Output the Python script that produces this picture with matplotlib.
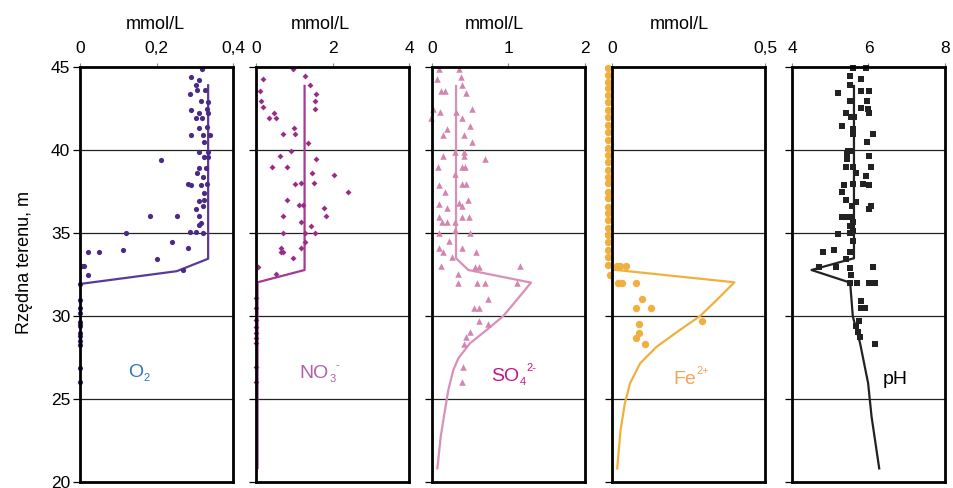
import numpy as np
import matplotlib
matplotlib.use('Agg')
import matplotlib.pyplot as plt

plt.rcParams['font.family'] = ['Liberation Sans', 'DejaVu Sans']

# ---- data (depth [m], value) ----
o2_pts = [(44.9, 0.319), (44.4, 0.290), (44.2, 0.311), (43.9, 0.303), (43.4, 0.288), (43.6, 0.306),
          (43.6, 0.327), (42.95, 0.316), (42.9, 0.334), (42.4, 0.290), (42.5, 0.332), (42.2, 0.311),
          (41.9, 0.303), (41.9, 0.318), (42.2, 0.334), (41.4, 0.332), (41.3, 0.311), (40.9, 0.290),
          (40.9, 0.322), (40.9, 0.340), (40.5, 0.324), (39.9, 0.311), (39.9, 0.335), (39.4, 0.212),
          (39.6, 0.324), (39.6, 0.335), (38.9, 0.311), (38.9, 0.329), (38.6, 0.305), (38.4, 0.321),
          (37.95, 0.282), (37.9, 0.290), (37.9, 0.316), (37.95, 0.333), (37.4, 0.325), (36.9, 0.311),
          (37.0, 0.325), (36.6, 0.321), (36.45, 0.303), (36.0, 0.311), (36.0, 0.183), (36.0, 0.253),
          (35.6, 0.316), (35.5, 0.311), (35.05, 0.288), (35.05, 0.303), (35.0, 0.321), (35.0, 0.120),
          (34.45, 0.241), (34.1, 0.282), (34.0, 0.112), (33.85, 0.021), (33.85, 0.050), (33.45, 0.201),
          (33.0, 0.005), (33.0, 0.010), (32.8, 0.270), (32.5, 0.021), (31.93, 0.0), (30.96, 0.0),
          (30.48, 0.0), (30.18, 0.0), (29.64, 0.0), (29.52, 0.0), (29.40, 0.0), (28.98, 0.0),
          (28.80, 0.0), (28.49, 0.0), (28.25, 0.0), (26.87, 0.0), (26.02, 0.0)]
o2_line_y = [43.9, 33.45, 32.7, 31.93, 20.8]
o2_line_x = [0.335, 0.335, 0.253, 0.0, 0.0]

no3_pts = [(44.9, 0.955), (44.44, 1.27), (44.26, 0.18), (43.9, 1.42), (43.4, 1.58), (43.55, 0.11),
           (42.97, 0.13), (42.97, 1.53), (42.57, 0.18), (42.47, 1.53), (42.2, 0.46), (41.95, 0.33),
           (41.95, 0.53), (41.3, 0.99), (40.96, 0.71), (40.96, 1.03), (40.44, 1.36), (39.96, 0.92),
           (39.66, 0.63), (39.48, 1.58), (38.96, 0.42), (38.96, 0.82), (38.64, 1.47), (38.48, 2.03),
           (37.93, 1.03), (38.0, 1.17), (38.0, 1.51), (37.45, 2.41), (36.97, 0.82), (36.7, 1.12),
           (36.7, 1.22), (36.49, 1.77), (36.0, 1.82), (36.0, 0.71), (35.68, 1.18), (35.44, 1.45),
           (35.0, 1.53), (34.98, 0.71), (34.98, 1.29), (34.48, 1.29), (34.08, 1.17), (34.08, 0.66),
           (33.87, 0.65), (33.87, 0.71), (33.5, 0.96), (32.97, 0.04), (32.51, 0.53), (31.07, 0.0),
           (30.48, 0.0), (29.76, 0.0), (29.36, 0.0), (29.0, 0.0), (28.69, 0.0), (28.35, 0.0),
           (26.95, 0.0), (26.04, 0.0)]
no3_line_y = [43.86, 32.77, 32.03, 20.84]
no3_line_x = [1.27, 1.27, 0.04, 0.04]

so4_pts = [(44.9, 0.092), (44.9, 0.353), (44.26, 0.061), (44.42, 0.375), (43.9, 0.396), (43.55, 0.114),
           (43.55, 0.17), (43.43, 0.444), (42.49, 0.009), (41.9, -0.009), (42.27, 0.105), (42.47, 0.519),
           (42.3, 0.314), (41.9, 0.396), (41.45, 0.497), (41.27, 0.192), (40.92, 0.144), (40.92, 0.414),
           (40.46, 0.519), (39.9, 0.301), (39.9, 0.414), (39.66, 0.148), (39.66, 0.422), (39.46, 0.693),
           (39.0, 0.082), (39.0, 0.396), (39.0, 0.431), (38.54, 0.301), (37.89, 0.096), (37.95, 0.396),
           (37.95, 0.44), (37.45, 0.17), (36.73, 0.096), (36.49, 0.192), (36.99, 0.466), (36.8, 0.353),
           (36.6, 0.396), (35.98, 0.092), (35.98, 0.388), (35.98, 0.484), (35.68, 0.135), (35.68, 0.192),
           (35.68, 0.301), (34.98, 0.092), (35.18, 0.301), (34.98, 0.497), (34.54, 0.226), (34.08, 0.092),
           (34.08, 0.388), (33.87, 0.14), (33.87, 0.575), (33.53, 0.266), (33.03, 0.114), (32.98, 0.562),
           (32.98, 0.618), (33.03, 1.15), (32.51, 0.344), (32.01, 0.344), (32.01, 0.584), (32.01, 0.693),
           (32.01, 1.107), (31.02, 0.728), (30.5, 0.553), (30.5, 0.618), (29.72, 0.618), (29.52, 0.728),
           (29.05, 0.497), (28.72, 0.444), (28.3, 0.414), (26.95, 0.401), (26.04, 0.396)]
so4_line_y = [43.86, 33.48, 32.77, 32.01, 30.96, 30.0, 29.16, 28.36, 27.45, 26.75, 25.54, 24.34, 22.73, 20.82]
so4_line_x = [0.314, 0.314, 0.475, 1.294, 1.107, 0.932, 0.715, 0.497, 0.344, 0.279, 0.213, 0.17, 0.114, 0.07]

fe_pts = [(44.92, -0.012), (44.52, -0.012), (44.12, -0.012), (43.72, -0.012), (43.31, -0.012),
          (42.91, -0.012), (42.41, -0.012), (42.01, -0.012), (41.51, -0.012), (41.11, -0.012),
          (40.60, -0.012), (40.10, -0.012), (39.70, -0.012), (39.30, -0.012), (38.80, -0.012),
          (38.39, -0.012), (37.99, -0.012), (37.49, -0.012), (37.09, -0.012), (36.59, -0.012),
          (36.19, -0.012), (35.78, -0.012), (35.28, -0.012), (34.88, -0.012), (34.48, -0.012),
          (33.98, -0.012), (33.58, -0.012), (33.07, -0.012), (33.0, 0.015), (33.0, 0.026),
          (33.0, 0.046), (32.47, -0.007), (31.97, 0.021), (31.97, 0.032), (31.97, 0.077),
          (31.0, 0.097), (30.47, 0.077), (30.47, 0.126), (29.7, 0.293), (29.52, 0.088),
          (29.0, 0.088), (28.7, 0.077), (28.3, 0.109)]
fe_line_y = [43.9, 32.8, 32.03, 30.96, 30.0, 29.16, 28.15, 27.15, 25.95, 24.74, 23.13, 20.82]
fe_line_x = [0.0, 0.0, 0.40, 0.342, 0.288, 0.222, 0.146, 0.092, 0.059, 0.042, 0.028, 0.017]

ph_pts = [(44.92, 5.60), (44.92, 5.93), (44.44, 5.52), (44.26, 5.80), (43.92, 5.52), (43.43, 5.21),
          (43.55, 5.80), (43.55, 6.01), (42.97, 5.52), (42.97, 5.95), (42.51, 5.80), (42.47, 5.98),
          (42.25, 6.01), (42.25, 5.42), (41.97, 5.54), (41.97, 5.62), (41.47, 5.30), (41.25, 5.60),
          (40.96, 5.60), (40.95, 6.11), (40.46, 5.95), (39.96, 5.47), (39.96, 5.52), (39.76, 5.43),
          (39.44, 5.45), (39.64, 6.01), (38.96, 5.42), (38.96, 5.60), (38.96, 6.07), (38.64, 5.67),
          (38.45, 5.93), (37.87, 5.36), (37.95, 5.60), (37.95, 5.86), (37.87, 6.01), (37.45, 5.30),
          (36.99, 5.42), (36.85, 5.67), (36.64, 5.56), (36.63, 6.07), (36.45, 6.01), (35.98, 5.30),
          (35.98, 5.36), (35.98, 5.52), (35.68, 5.60), (35.44, 5.52), (35.14, 5.60), (34.92, 5.21),
          (35.0, 5.52), (34.5, 5.60), (33.84, 4.80), (33.98, 5.10), (33.84, 5.52), (33.43, 5.42),
          (32.97, 4.71), (32.97, 5.14), (32.87, 5.52), (32.97, 6.11), (32.47, 5.54), (31.97, 5.52),
          (31.97, 5.71), (31.97, 6.01), (31.97, 6.17), (30.93, 5.80), (30.47, 5.80), (30.47, 5.91),
          (29.72, 5.76), (29.42, 5.67), (29.06, 5.73), (28.72, 5.78), (28.3, 6.17)]
ph_line_y = [43.86, 33.48, 32.77, 32.01, 29.97, 28.36, 25.95, 23.94, 20.82]
ph_line_x = [5.62, 5.62, 4.51, 5.52, 5.59, 5.78, 5.99, 6.08, 6.28]

# x ticks per panel (comma decimals as in the original)
o2_ticks, o2_labels = [0, 0.2, 0.4], ['0', '0,2', '0,4']
no3_ticks, no3_labels = [0, 2, 4], ['0', '2', '4']
so4_ticks, so4_labels = [0, 1, 2], ['0', '1', '2']
fe_ticks, fe_labels = [0, 0.5], ['0', '0,5']
ph_ticks, ph_labels = [4, 6, 8], ['4', '6', '8']
depth_ticks = [20, 25, 30, 35, 40, 45]

# species labels: (base, subscript, superscript)
o2_name = ('O', '2', '')
no3_name = ('NO', '3', '-')
so4_name = ('SO', '4', '2-')
fe_name = ('Fe', '', '2+')
ph_name = ('pH', '', '')

panels = [
    dict(pts=o2_pts, lx=o2_line_x, ly=o2_line_y, xlim=(0, 0.4), ticks=o2_ticks, labels=o2_labels,
         color='#4a2a86', lcolor='#5a3a98', marker='o', ms=14, name=o2_name, ncolor='#2a78c0',
         npos=(0.314, 0.253), unit=True, upos=0.49, left=80),
    dict(pts=no3_pts, lx=no3_line_x, ly=no3_line_y, xlim=(0, 4), ticks=no3_ticks, labels=no3_labels,
         color='#9a2c88', lcolor='#a63896', marker='D', ms=9, name=no3_name, ncolor='#b060aa',
         npos=(0.283, 0.25), unit=True, upos=0.42, left=256),
    dict(pts=so4_pts, lx=so4_line_x, ly=so4_line_y, xlim=(0, 2), ticks=so4_ticks, labels=so4_labels,
         color='#d484b0', lcolor='#d890b8', marker='^', ms=22, name=so4_name, ncolor='#c0168c',
         npos=(0.386, 0.243), unit=True, upos=0.41, left=432),
    dict(pts=fe_pts, lx=fe_line_x, ly=fe_line_y, xlim=(0, 0.5), ticks=fe_ticks, labels=fe_labels,
         color='#f0b040', lcolor='#f0b040', marker='o', ms=28, name=fe_name, ncolor='#f2a458',
         npos=(0.40, 0.236), unit=True, upos=0.44, left=612),
    dict(pts=ph_pts, lx=ph_line_x, ly=ph_line_y, xlim=(4, 8), ticks=ph_ticks, labels=ph_labels,
         color='#222222', lcolor='#222222', marker='s', ms=15, name=ph_name, ncolor='black',
         npos=(0.595, 0.236), unit=False, upos=0.5, left=792),
]

W, H = 954, 488
fig = plt.figure(figsize=(W / 100, H / 100), dpi=100)
renderer = fig.canvas.get_renderer()


def chem_label(ax, x, y, name, color):
    base, sub, sup = name
    t = ax.text(x, y, base, transform=ax.transAxes, ha='left', va='baseline', fontsize=14,
                color=color)
    off = t.get_window_extent(renderer).width * 72 / fig.dpi + 0.5
    if sub:
        s = ax.annotate(sub, xy=(x, y), xycoords='axes fraction', xytext=(off, -3),
                        textcoords='offset points', fontsize=8, color=color, va='baseline')
        off += s.get_window_extent(renderer).width * 72 / fig.dpi
    if sup:
        ax.annotate(sup, xy=(x, y), xycoords='axes fraction', xytext=(off, 7),
                    textcoords='offset points', fontsize=8, color=color, va='baseline')


for i, p in enumerate(panels):
    ax = fig.add_axes([p['left'] / W, 6 / H, 153 / W, 415 / H])
    ax.set_xlim(*p['xlim'])
    ax.set_ylim(20, 45)

    # horizontal guide lines
    for d in [25, 30, 35, 40]:
        ax.axhline(d, color='#222222', lw=0.9, zorder=1)

    ax.plot(p['lx'], p['ly'], color=p['lcolor'], lw=1.6, zorder=3)
    d = [q[0] for q in p['pts']]
    v = [q[1] for q in p['pts']]
    ax.scatter(v, d, s=p['ms'], marker=p['marker'], color=p['color'], linewidths=0,
               zorder=4, clip_on=False)

    ax.xaxis.tick_top()
    ax.set_xticks(p['ticks'])
    ax.set_xticklabels(p['labels'])
    ax.tick_params(axis='x', length=3, width=0.8, color='#888888', labelsize=12.5, pad=5)
    ax.set_yticks(depth_ticks)
    ax.tick_params(axis='y', length=5, width=0.9, labelsize=12.5, pad=2)
    if i > 0:
        ax.set_yticklabels([])
    for s in ax.spines.values():
        s.set_linewidth(2.0)
        s.set_zorder(5)

    if p['unit']:
        ax.text(p['upos'], 1.102, 'mmol/L', transform=ax.transAxes, ha='center', va='center',
                fontsize=13)
    chem_label(ax, p['npos'][0], p['npos'][1], p['name'], p['ncolor'])

fig.text(25 / W, (H - 262) / H, 'Rzędna terenu, m', rotation=90, ha='center', va='center',
         fontsize=13)

fig.savefig('out.png', dpi=100)
